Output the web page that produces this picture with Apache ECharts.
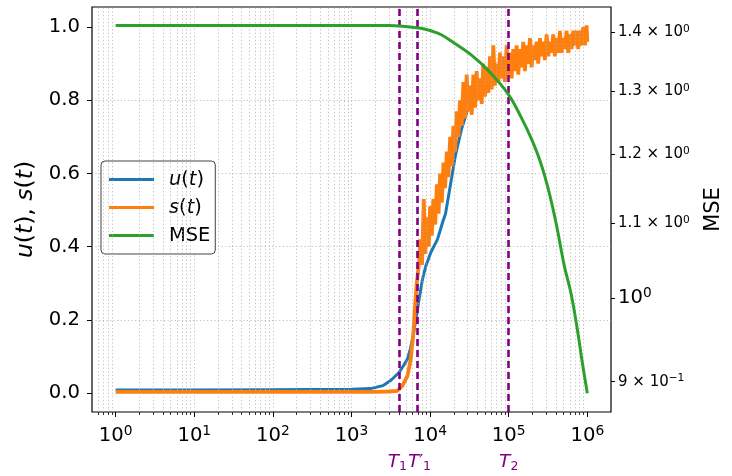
<!DOCTYPE html>
<html><head><meta charset="utf-8">
<script src="https://cdn.jsdelivr.net/npm/echarts@6/dist/echarts.min.js"></script>
<style>html,body{margin:0;padding:0;background:#fff}#c{width:732px;height:476px}</style>
</head><body><div id="c"></div>
<script>
// ---- data ----
const xTickVals = [1, 10, 100, 1000, 10000, 100000, 1000000];
const xMinorVals = [0.6, 0.7, 0.8, 0.9, 2, 3, 4, 5, 6, 7, 8, 9, 20, 30, 40, 50, 60, 70, 80, 90,
  200, 300, 400, 500, 600, 700, 800, 900, 2000, 3000, 4000, 5000, 6000, 7000, 8000, 9000,
  20000, 30000, 40000, 50000, 60000, 70000, 80000, 90000, 200000, 300000, 400000, 500000,
  600000, 700000, 800000, 900000];
const leftTickVals = [0, 0.2, 0.4, 0.6, 0.8, 1.0];
const rightTickVals = [0.9, 1.0, 1.1, 1.2, 1.3, 1.4];
const rightTickLabels = ['{m|9 × 10}{ms|−1}', '{b|10}{bs|0}', '{m|1.1 × 10}{ms|0}', '{m|1.2 × 10}{ms|0}', '{m|1.3 × 10}{ms|0}', '{m|1.4 × 10}{ms|0}'];
const markerT = [4000, 6800, 100000];
const markerLabels = ['{i|T}{sub|1}', '{i|T}{p|′}{sub|1}', '{i|T}{sub|2}'];

const uT = [1, 10, 100, 1000, 1750, 2500, 3150, 4030, 4600, 5150, 5600, 5970, 6570, 7240, 8000, 8820, 10200, 12400, 14400, 15700, 18000, 21000, 25000, 30000, 40000, 60000, 100000, 200000, 400000, 1000000];
const uV = [0.008, 0.008, 0.009, 0.010, 0.012, 0.020, 0.034, 0.056, 0.075, 0.093, 0.120, 0.147, 0.200, 0.256, 0.311, 0.347, 0.384, 0.420, 0.466, 0.490, 0.565, 0.650, 0.720, 0.775, 0.810, 0.850, 0.890, 0.925, 0.945, 0.965];

const sT = [1, 10, 100, 1000, 2000, 3000, 3840, 4450, 5150, 5680, 6140, 6440, 6760, 7240,
  7500, 7900, 8300, 8700, 9100, 9600, 10000, 10500, 11000, 11600,
  12200, 12800, 13400, 14100, 14800, 15500, 16300, 17100, 18000, 18900,
  19800, 20800, 21800, 22900, 24000, 25200, 26500, 27800, 29200, 30700,
  32200, 33800, 35500, 37300, 39100, 41100, 43100, 45300, 47500, 49900,
  52400, 55000, 57800, 60700, 63700, 66900, 70200, 73700, 77400, 81300,
  85300, 89600, 94100, 98800, 103700, 108900, 114300, 120000, 126000, 132300,
  138900, 145900, 153200, 160800, 168900, 177300, 186200, 195500, 205300, 215500,
  226300, 237600, 249500, 262000, 275100, 288800, 303300, 318400, 334400, 351100,
  368600, 387000, 406400, 426700, 448000, 470400, 494000, 518700, 544600, 571800,
  600400, 630400, 662000, 695100, 729800, 766300, 804600, 844800, 887100, 931400,
  978000, 1000000];
const sV = [0.003, 0.003, 0.003, 0.003, 0.003, 0.004, 0.006, 0.020, 0.047, 0.093, 0.166, 0.238, 0.300, 0.357,
  0.42, 0.35, 0.53, 0.38, 0.48, 0.40, 0.51, 0.43, 0.53, 0.46,
  0.57, 0.49, 0.60, 0.52, 0.63, 0.56, 0.66, 0.59, 0.70, 0.62,
  0.73, 0.66, 0.77, 0.70, 0.80, 0.73, 0.85, 0.75, 0.87, 0.77,
  0.84, 0.76, 0.87, 0.78, 0.88, 0.80, 0.86, 0.79, 0.90, 0.81,
  0.89, 0.82, 0.92, 0.83, 0.95, 0.84, 0.90, 0.85, 0.93, 0.86,
  0.92, 0.85, 0.95, 0.87, 0.93, 0.86, 0.94, 0.88, 0.95, 0.87,
  0.94, 0.89, 0.96, 0.88, 0.95, 0.90, 0.97, 0.89, 0.95, 0.91,
  0.96, 0.90, 0.97, 0.92, 0.96, 0.91, 0.98, 0.92, 0.96, 0.93,
  0.98, 0.92, 0.97, 0.93, 0.99, 0.93, 0.97, 0.94, 0.99, 0.93,
  0.98, 0.94, 0.99, 0.95, 0.99, 0.94, 0.99, 0.95, 1.00, 0.95,
  1.005, 0.96];

const mseT = [1, 10, 100, 1000, 3000, 5000, 7600, 10000, 13700, 20200, 33000, 54000, 97000, 143000, 192000, 250000, 314000, 400000, 512000, 624000, 759000, 870000, 1000000];
const mseV = [1.412, 1.412, 1.412, 1.412, 1.412, 1.410, 1.407, 1.403, 1.396, 1.381, 1.361, 1.335, 1.296, 1.258, 1.225, 1.190, 1.151, 1.100, 1.041, 1.005, 0.957, 0.920, 0.887];

// ---- build ----
const pairs = (xs, ys) => xs.map((x, i) => [x, ys[i]]);
const FONT = 'DejaVu Sans';
const grey = '#b0b0b0';
const dot = [1.2, 2.4];
const logX = {type: 'log', logBase: 10, min: 0.5, max: 2000000, position: 'bottom'};
const markerRich = {i: {fontFamily: FONT, fontSize: 18.5, fontStyle: 'italic', color: '#800080'},
  p: {fontFamily: FONT, fontSize: 17, fontStyle: 'italic', color: '#800080'},
  sub: {fontFamily: FONT, fontSize: 12.5, color: '#800080', verticalAlign: 'bottom', padding: [8, 0, 0, 0]}};
const markerPad = [[0, 3, 0, 0], [0, 0, 0, 5], [0, 0, 0, 0]];
const markerAxes = markerT.map((t, k) => Object.assign({}, logX, {
  axisLine: {show: false, onZero: false}, axisTick: {show: false}, splitLine: {show: false},
  axisLabel: {customValues: [t], margin: 40, color: '#800080', hideOverlap: false, padding: markerPad[k],
    formatter: () => markerLabels[k], rich: markerRich}
}));

const chart = echarts.init(document.getElementById('c'), null, {renderer: 'canvas'});
chart.setOption({
  animation: false,
  backgroundColor: '#fff',
  textStyle: {fontFamily: FONT, color: '#000'},
  grid: {left: 92, right: 121, top: 7, bottom: 64, show: true, borderColor: '#000', borderWidth: 1.2, backgroundColor: 'transparent', outerBoundsMode: 'none'},
  legend: {
    orient: 'vertical', left: 101, top: 161, data: ['u(t)', 's(t)', 'MSE'],
    icon: 'rect', itemWidth: 45, itemHeight: 3, itemGap: 9,
    padding: [9, 5, 9, 8], borderColor: '#444', borderWidth: 1, borderRadius: 4,
    backgroundColor: 'rgba(255,255,255,0.85)',
    textStyle: {fontFamily: FONT, fontSize: 19.4, color: '#000', padding: [0, 0, 0, 10],
      rich: {i: {fontFamily: FONT, fontSize: 19.4, fontStyle: 'italic'}, n: {fontFamily: FONT, fontSize: 19.4}}},
    formatter: n => n === 'MSE' ? 'MSE' : '{i|' + n[0] + '}{n|(}{i|t}{n|)}'
  },
  xAxis: [Object.assign({}, logX, {
    axisLine: {show: false, onZero: false},
    axisTick: {show: true, customValues: xTickVals, length: 5, lineStyle: {color: '#000', width: 1}},
    axisLabel: {customValues: xTickVals, margin: 12, color: '#000', hideOverlap: false,
      formatter: v => '{b|10}{s|' + String(Math.round(Math.log10(v))).replace('-', '−') + '}',
      rich: {b: {fontFamily: FONT, fontSize: 19.6}, s: {fontFamily: FONT, fontSize: 13.8, verticalAlign: 'top', padding: [0, 0, 9, 0]}}},
    splitLine: {show: true, showMinLine: false, showMaxLine: false, lineStyle: {color: grey, width: 0.8, type: dot}}
  }), Object.assign({}, logX, {
    axisLine: {show: false, onZero: false},
    axisTick: {show: true, customValues: xMinorVals, length: 3, lineStyle: {color: '#000', width: 0.8}},
    axisLabel: {show: false}, splitLine: {show: false}
  })].concat(markerAxes),
  yAxis: [{
    type: 'value', min: -0.052, max: 1.055, position: 'left',
    name: '{i|u}{n|(}{i|t}{n|), }{i|s}{n|(}{i|t}{n|)}', nameLocation: 'middle', nameRotate: 90, nameGap: 50,
    nameTextStyle: {rich: {i: {fontFamily: FONT, fontSize: 23.5, fontStyle: 'italic'}, n: {fontFamily: FONT, fontSize: 23.5}}},
    axisLine: {show: false, onZero: false},
    axisTick: {show: true, customValues: leftTickVals, length: 5, lineStyle: {color: '#000'}},
    axisLabel: {customValues: leftTickVals, margin: 12, fontFamily: FONT, fontSize: 19.6, color: '#000', formatter: v => v.toFixed(1)},
    splitLine: {show: true, showMinLine: false, showMaxLine: false, lineStyle: {color: grey, width: 0.8, type: dot}}
  }, {
    type: 'log', logBase: 10, min: 0.8662, max: 1.4454, position: 'right',
    name: 'MSE', nameLocation: 'middle', nameRotate: 90, nameGap: 92,
    nameTextStyle: {fontFamily: FONT, fontSize: 21, color: '#000'},
    axisLine: {show: false, onZero: false},
    axisTick: {show: true, customValues: rightTickVals, length: 4, lineStyle: {color: '#000'}},
    axisLabel: {customValues: rightTickVals, margin: 7, color: '#000', hideOverlap: false,
      formatter: v => rightTickLabels[rightTickVals.findIndex(t => Math.abs(t - v) < 0.01)],
      rich: {m: {fontFamily: FONT, fontSize: 15}, ms: {fontFamily: FONT, fontSize: 10.6, verticalAlign: 'top', padding: [0, 0, 6, 0]},
        b: {fontFamily: FONT, fontSize: 19.6}, bs: {fontFamily: FONT, fontSize: 13.8, verticalAlign: 'top', padding: [0, 0, 9, 0]}}},
    splitLine: {show: false}
  }],
  series: [{
    name: 'minorgrid', type: 'line', data: [], z: 1, silent: true,
    markLine: {silent: true, symbol: ['none', 'none'], label: {show: false},
      lineStyle: {color: grey, width: 0.8, type: dot}, emphasis: {disabled: true},
      data: xMinorVals.map(v => ({xAxis: v}))}
  }, {
    name: 'u(t)', type: 'line', data: pairs(uT, uV), showSymbol: false, symbol: 'none', z: 3,
    lineStyle: {color: '#1f77b4', width: 3}, itemStyle: {color: '#1f77b4'}
  }, {
    name: 's(t)', type: 'line', data: pairs(sT, sV), showSymbol: false, symbol: 'none', z: 4,
    lineStyle: {color: '#ff7f0e', width: 3.8}, itemStyle: {color: '#ff7f0e'}
  }, {
    name: 'MSE', type: 'line', yAxisIndex: 1, data: pairs(mseT, mseV), showSymbol: false, symbol: 'none', z: 5, smooth: 0.4,
    lineStyle: {color: '#2ca02c', width: 3}, itemStyle: {color: '#2ca02c'}
  }, {
    name: 'markers', type: 'line', data: [], z: 6, silent: true,
    markLine: {silent: true, symbol: ['none', 'none'], label: {show: false},
      lineStyle: {color: '#800080', width: 2.6, type: [7, 4]}, emphasis: {disabled: true},
      data: markerT.map(v => ({xAxis: v}))}
  }]
});
</script></body></html>
